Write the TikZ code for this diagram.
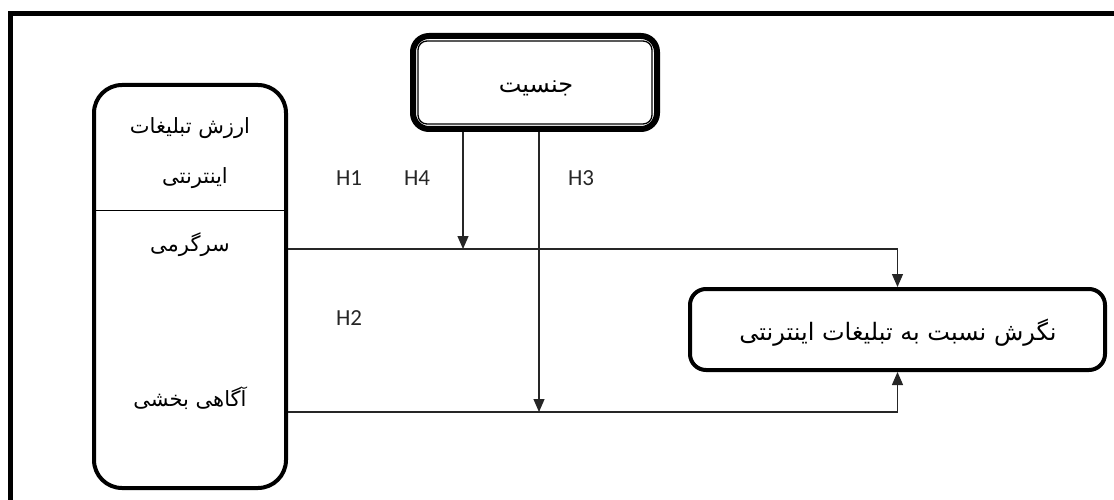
\documentclass[tikz,border=0pt]{standalone}
\usepackage{fontspec}
\usetikzlibrary{arrows.meta}
\TeXXeTstate=1
\newfontfamily\arabicfont[Script=Arabic]{DejaVu Sans}
\newfontfamily\latinsans{Carlito}
\begin{document}
\begin{tikzpicture}[x=1pt,y=-1pt,
  frame/.style={line width=5pt},
  boxthick/.style={draw, line width=4pt, rounded corners=#1},
  conn/.style={line width=1.3pt, draw=black!85},
  tip/.style={-{Triangle[width=11pt,length=13pt]}},
  fa/.style={font=\arabicfont\fontsize{21}{24}\selectfont, inner sep=0pt},
  fabig/.style={font=\arabicfont\fontsize{24}{28}\selectfont, inner sep=0pt},
  hl/.style={font=\latinsans\fontsize{23}{26}\selectfont, text=black!85, inner sep=0pt}
]
\useasboundingbox (0,0) rectangle (1114,500);
% outer frame (top and left sides)
\draw[frame] (10,500) -- (10,13.5) -- (1114,13.5);

% left box
\node[boxthick=28pt, minimum width=192pt, minimum height=403pt] (lb) at (190,286.5) {};
\draw[line width=1pt] (lb.west |- 0,210) -- (lb.east |- 0,210);
\node[fa] (t1) at (190,128) {\beginR ارزش تبلیغات\endR};
\node[fa] (t2) at (195,178) {\beginR اینترنتی\endR};
\node[fa] (t3) at (190,245) {\beginR سرگرمی\endR};
\node[fa] (t4) at (190,398) {\beginR آگاهی بخشی\endR};

% gender box
\node[boxthick=16pt, line width=6pt, minimum width=244pt, minimum height=93pt] (g) at (535,82.5) {};
\draw[line width=1.3pt, rounded corners=9pt] ([shift={(8,8)}]g.north west) rectangle ([shift={(-8,-8)}]g.south east);
\node[fabig] (gt) at (536,88) {\beginR جنسیت\endR};

% target box
\node[boxthick=16pt, minimum width=415pt, minimum height=81pt] (tg) at (897.5,329.5) {};
\node[fabig] (tt) at (898,333) {\beginR نگرش نسبت به تبلیغات اینترنتی\endR};

% junction points
\coordinate (j1) at (463,249);
\coordinate (j2) at (539,412);

% connectors
\draw[conn, tip] (lb.east |- j1) -| (tg.north);
\draw[conn, tip] (lb.east |- j2) -| (tg.south);
\draw[conn, tip] (g.south -| j1) -- (j1);
\draw[conn, tip] (g.south -| j2) -- (j2);

% labels
\node[hl] (h1) at (349,178) {H1};
\node[hl] (h4) at (417,178) {H4};
\node[hl] (h3) at (581,178) {H3};
\node[hl] (h2) at (349,318) {H2};
\end{tikzpicture}
\end{document}
